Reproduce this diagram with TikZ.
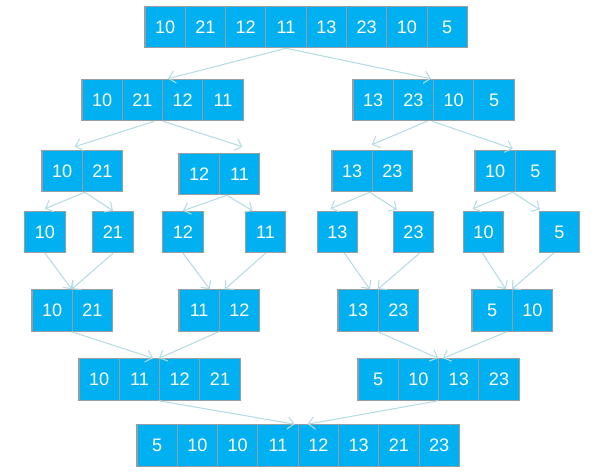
\documentclass[tikz,border=0pt]{standalone}
\usepackage{fontspec}
\setmainfont{Liberation Sans}
\usetikzlibrary{arrows.meta}
\usetikzlibrary{calc}
\definecolor{cellblue}{RGB}{0,176,240}
\definecolor{cellline}{RGB}{150,158,164}
\definecolor{arrowline}{RGB}{180,220,228}
\tikzset{
  cell/.style={draw=cellline, line width=0.6pt, fill=cellblue, text=white, inner sep=0pt,
    minimum width=0.806cm, minimum height=0.83cm, font=\fontsize{10.3}{12}\selectfont},
  link/.style={draw=arrowline, line width=0.6pt, -{Straight Barb[length=3.5pt,width=7pt]}}
}
% one array: name, left x, centre y, values
\newcommand{\cellrow}[4]{%
  \foreach \v [count=\i] in {#4}
    \node[cell] (#1\i) at ({#2+40.3*(\i-0.5)},#3) {\v};
}
\begin{document}
\begin{tikzpicture}[x=0.02cm,y=-0.02cm]
\useasboundingbox (0,0) rectangle (599,476);
% input
\cellrow{full}{145}{27}{10,21,12,11,13,23,10,5}
% split
\cellrow{left}{82}{100}{10,21,12,11}
\cellrow{right}{353}{100}{13,23,10,5}
\cellrow{ll}{42}{171}{10,21}
\cellrow{lr}{179}{174}{12,11}
\cellrow{rl}{332}{171}{13,23}
\cellrow{rr}{475}{171}{10,5}
% single elements
\foreach \x/\v [count=\i] in {45/10,113/21,183/12,265.5/11,337.5/13,413.5/23,483.5/10,559.5/5}
  \node[cell] (s\i) at (\x,232) {\v};
% merge
\cellrow{mll}{32}{310.5}{10,21}
\cellrow{mlr}{179}{310.5}{11,12}
\cellrow{mrl}{338}{310.5}{13,23}
\cellrow{mrr}{472}{310.5}{5,10}
\cellrow{ml}{79}{379.5}{10,11,12,21}
\cellrow{mr}{358}{379.5}{5,10,13,23}
% result
\cellrow{sorted}{137}{445.5}{5,10,10,11,12,13,21,23}

% split arrows
\draw[link] (full4.south) -- ($(left3.north west)+(6,0)$);
\draw[link] (full4.south) -- ($(right3.north west)+(-2,0)$);
\draw[link] ($(left2.south east)+(-9,0)$) -- ($(ll1.north east)+(-8,-3)$);
\draw[link] (left2.south east) -- ($(lr2.north)+(3,-6)$);
\draw[link] ($(right3.south west)+(-6,0)$) -- ($(rl2.north west)+(0,-5)$);
\draw[link] ($(right3.south west)+(-1,0)$) -- ($(rr2.north west)+(-2,-1)$);
\draw[link] ($(ll2.south west)+(3,0)$) -- ($(s1.north)+(0,-2)$);
\draw[link] ($(ll2.south west)+(3,0)$) -- (s2.north);
\draw[link] ($(lr2.south west)+(8,0)$) -- (s3.north);
\draw[link] ($(lr2.south west)+(8,0)$) -- ($(s4.north)+(-13,0)$);
\draw[link] ($(rl2.south west)+(-2,0)$) -- ($(s5.north)+(-7,-2)$);
\draw[link] ($(rl2.south west)+(-2,0)$) -- ($(s6.north west)+(4,-1)$);
\draw[link] ($(rr2.south west)+(-2,0)$) -- ($(s7.north west)+(10,-2)$);
\draw[link] ($(rr2.south west)+(-2,0)$) -- ($(s8.north west)+(1,-1)$);
% merge arrows
\draw[link] (s1.south) -- (mll2.north west);
\draw[link] (s2.south) -- (mll2.north west);
\draw[link] (s3.south) -- ($(mlr2.north west)+(-9,0)$);
\draw[link] (s4.south) -- ($(mlr2.north west)+(6,0)$);
\draw[link] ($(s5.south)+(7,0)$) -- ($(mrl2.north west)+(-8,0)$);
\draw[link] ($(s6.south)+(6,0)$) -- (mrl2.north west);
\draw[link] ($(s7.south)+(-1,0)$) -- ($(mrr2.north west)+(-6,0)$);
\draw[link] ($(s8.south)+(-6,0)$) -- (mrr2.north west);
\draw[link] (mll2.south west) -- ($(ml3.north west)+(-6,0)$);
\draw[link] (mlr2.south west) -- (ml3.north west);
\draw[link] (mrl2.south west) -- (mr3.north west);
\draw[link] ($(mrr2.south west)+(-5,0)$) -- ($(mr3.north west)+(5,0)$);
\draw[link] (ml3.south west) -- ($(sorted5.north west)+(-3,0)$);
\draw[link] (mr3.south west) -- ($(sorted5.north west)+(10,0)$);
\end{tikzpicture}
\end{document}
